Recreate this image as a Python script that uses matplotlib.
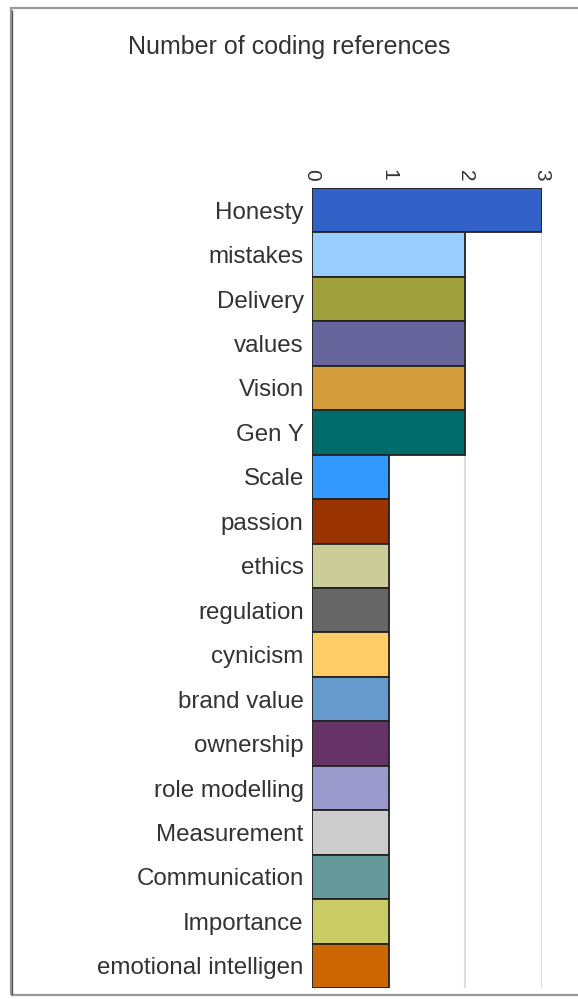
import matplotlib
matplotlib.use("Agg")
import matplotlib.pyplot as plt
from matplotlib.patches import Rectangle

categories = [
    "Honesty", "mistakes", "Delivery", "values", "Vision", "Gen Y",
    "Scale", "passion", "ethics", "regulation", "cynicism", "brand value",
    "ownership", "role modelling", "Measurement", "Communication",
    "Importance", "emotional intelligen",
]
references = [3, 2, 2, 2, 2, 2, 1, 1, 1, 1, 1, 1, 1, 1, 1, 1, 1, 1]
bar_colors = [
    "#3261c8", "#99ccff", "#a0a03c", "#66669c", "#d49c3a", "#006b6b",
    "#3399ff", "#993300", "#cccc99", "#666666", "#ffcc66", "#6699cc",
    "#663366", "#9999cc", "#cccccc", "#669999", "#cccc66", "#cc6600",
]
ticks = [0, 1, 2, 3]
title = "Number of coding references"

plt.rcParams["font.family"] = ["Liberation Sans", "DejaVu Sans"]

W, H = 578, 999
fig = plt.figure(figsize=(W / 100, H / 100), dpi=100)
fig.patch.set_facecolor("white")

# outer frame of the chart panel (right edge runs off the canvas)
frame = Rectangle((11 / W, 1 - 995 / H), (600 - 11) / W, (995 - 8) / H,
                  transform=fig.transFigure, fill=False,
                  edgecolor="#9a9a9a", linewidth=1.6, zorder=0)
fig.patches.append(frame)
shadow = Rectangle((12.5 / W, 1 - 995 / H), 0, (995 - 10) / H,
                   transform=fig.transFigure, fill=False,
                   edgecolor="#555555", linewidth=1.0, zorder=1)
fig.patches.append(shadow)

left, right = 312 / W, 542 / W
top, bottom = 1 - 188 / H, 1 - 988 / H
ax = fig.add_axes([left, bottom, right - left, top - bottom])

y = list(range(len(categories)))
ax.barh(y, references, height=1.0, color=bar_colors,
        edgecolor="#232323", linewidth=1.3, zorder=3)

ax.set_xlim(0, 3)
ax.set_ylim(len(categories) - 0.5, -0.5)

ax.set_xticks(ticks)
ax.set_xticklabels([str(t) for t in ticks], rotation=-90, fontsize=15,
                   color="#333333")
ax.xaxis.tick_top()
ax.tick_params(axis="x", length=0, pad=5)

ax.set_yticks(y)
ax.set_yticklabels(categories, fontsize=17.4, color="#333333")
ax.tick_params(axis="y", length=0, pad=6)

for t in ticks[1:]:
    ax.axvline(t, color="#dcdcdc", linewidth=1.6, zorder=1)

for s in ax.spines.values():
    s.set_visible(False)

fig.text(289.5 / W, 1 - 47 / H, title, ha="center", va="center",
         fontsize=18, color="#333333")

fig.savefig("out.png", dpi=100, facecolor="white")
